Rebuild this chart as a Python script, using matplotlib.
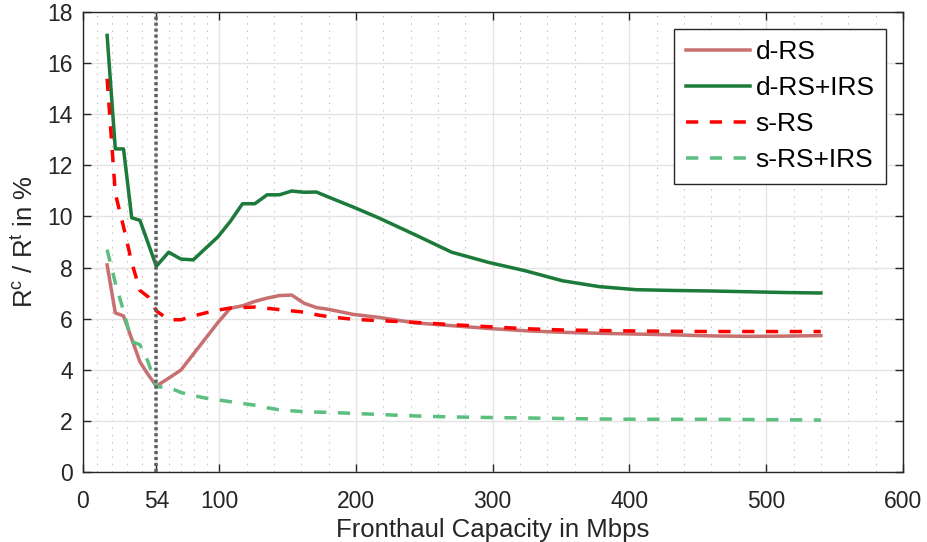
import numpy as np
import matplotlib
matplotlib.use('Agg')
import matplotlib.pyplot as plt

matplotlib.rc('font', size=16.5, family=['Liberation Sans', 'DejaVu Sans'])
matplotlib.rc('mathtext', default='regular')

# fronthaul capacity grid (Mbps)
cap = [18, 24, 30, 36, 42, 48, 54, 63, 72, 81, 90, 99, 108, 117, 126, 135,
       144, 153, 162, 171, 180, 198, 216, 243, 270, 297, 324, 351, 378, 405,
       432, 459, 486, 513, 540]

d_rs = [8.1, 6.22, 6.1, 5.2, 4.3, 3.8, 3.35, 3.66, 3.98, 4.6, 5.22, 5.84,
        6.4, 6.5, 6.67, 6.8, 6.9, 6.92, 6.6, 6.43, 6.36, 6.16, 6.05, 5.83,
        5.72, 5.61, 5.52, 5.46, 5.42, 5.39, 5.36, 5.32, 5.3, 5.31, 5.33]
d_rs_irs = [17.1, 12.65, 12.65, 9.95, 9.85, 8.95, 8.05, 8.6, 8.33, 8.3, 8.75,
            9.2, 9.8, 10.5, 10.5, 10.85, 10.85, 11.0, 10.95, 10.96, 10.76,
            10.37, 9.96, 9.29, 8.6, 8.2, 7.87, 7.48, 7.25, 7.13, 7.1, 7.08,
            7.05, 7.02, 7.0]
s_rs = [15.4, 10.9, 9.6, 8.2, 7.1, 6.85, 6.3, 5.95, 5.95, 6.1, 6.22, 6.33,
        6.41, 6.43, 6.45, 6.4, 6.35, 6.3, 6.25, 6.15, 6.07, 5.97, 5.92, 5.85,
        5.76, 5.68, 5.6, 5.55, 5.53, 5.51, 5.5, 5.49, 5.49, 5.49, 5.49]
s_rs_irs = [8.7, 7.4, 6.3, 5.1, 4.97, 4.3, 3.33, 3.3, 3.1, 2.98, 2.88, 2.81,
            2.74, 2.67, 2.6, 2.5, 2.42, 2.38, 2.35, 2.33, 2.32, 2.28, 2.24,
            2.18, 2.14, 2.12, 2.1, 2.08, 2.06, 2.05, 2.05, 2.05, 2.04, 2.03,
            2.02]

xticks = [0, 54, 100, 200, 300, 400, 500, 600]
yticks = list(range(0, 19, 2))

fig = plt.figure(figsize=(9.27, 5.42), dpi=100, facecolor='w')
ax = fig.add_axes([0.089, 0.13, 0.885, 0.847])

lw = 3.5 * 72 / 100
ax.plot(cap, d_rs, color='#c87070', lw=lw, label='d-RS')
ax.plot(cap, d_rs_irs, color='#1c7a3a', lw=lw, label='d-RS+IRS')
ax.plot(cap, s_rs, color='#ff0000', lw=lw, dashes=(3.5, 3.3), label='s-RS')
ax.plot(cap, s_rs_irs, color='#5bbf7f', lw=lw, dashes=(3.5, 3.3), label='s-RS+IRS')
ax.axvline(54, color='#606060', lw=lw, dashes=(0.9, 0.8), zorder=5)

# minor grid: five subdivisions per major interval
minor = []
for a, b in zip(xticks[:-1], xticks[1:]):
    minor += list(np.linspace(a, b, 6)[1:-1])
ax.set_xticks(minor, minor=True)
ax.set_xticks(xticks)
ax.set_yticks(yticks)
ax.axis([0, 600, 0, 18])

ax.grid(True, which='major', color='#e3e3e3', lw=1.0)
ax.grid(True, which='minor', axis='x', color='#c8c8c8', lw=0.8, ls=(0, (1.5, 5)))
ax.set_axisbelow(True)
ax.tick_params(which='major', direction='in', length=6, width=1,
               top=True, right=True, colors='#262626')
ax.tick_params(axis='x', which='major', pad=13)
ax.tick_params(axis='y', which='major', pad=7)
ax.tick_params(which='minor', length=0, top=True, right=True)
for s in ax.spines.values():
    s.set_color('#262626')
    s.set_linewidth(1.0)

ax.set_xlabel('Fronthaul Capacity in Mbps', color='#262626', fontsize=18.5,
              labelpad=4)
ax.set_ylabel('R$^c$ / R$^t$ in %', color='#262626', fontsize=18.5, labelpad=7)

leg = ax.legend(loc='upper right', bbox_to_anchor=(0.98, 0.965),
                handlelength=2.45, handletextpad=0.2, labelspacing=0.45,
                borderpad=0.45, borderaxespad=0, fancybox=False, framealpha=1,
                edgecolor='#262626', fontsize=19)
leg.get_frame().set_linewidth(1.0)

fig.savefig('out.png', dpi=100)
